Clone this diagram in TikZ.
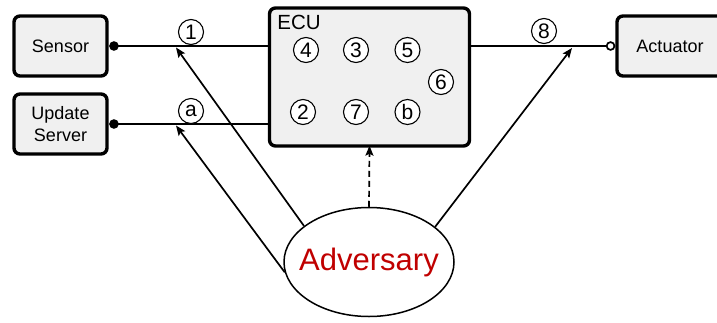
\documentclass[tikz,border=0pt]{standalone}
\usepackage{fontspec}
\setmainfont{Liberation Sans}
\usetikzlibrary{arrows.meta,shapes.geometric}
\definecolor{boxfill}{RGB}{240,240,240}
\definecolor{advred}{RGB}{192,0,0}
\begin{document}
\begin{tikzpicture}[x=1pt,y=-1pt,
  blockbox/.style={draw,line width=3.4pt,rounded corners=6pt,fill=boxfill,inner sep=0pt,
    font=\fontsize{18}{22}\selectfont,align=center},
  numcirc/.style={circle,draw,line width=1.1pt,fill=white,minimum size=25pt,inner sep=0pt,
    font=\fontsize{21}{21}\selectfont},
  conn/.style={line width=1.7pt},
  atk/.style={line width=1.7pt,-{Stealth[length=10pt,width=8pt,inset=2pt]}}]
\useasboundingbox (0,0) rectangle (717,322);
% boxes
\node[blockbox,minimum width=93pt,minimum height=60pt] (sensor) at (60.5,46) {Sensor};
\node[blockbox,minimum width=93pt,minimum height=60pt] (update) at (60.5,124) {Update\\Server};
\node[blockbox,minimum width=200pt,minimum height=138pt] (ecu) at (369.5,77) {};
\node[blockbox,minimum width=106pt,minimum height=60pt] (act) at (670,46) {Actuator};
\node[font=\fontsize{20.5}{20.5}\selectfont,inner sep=0pt] (eculabel) at (299,22) {ECU};
% ECU internals
\node[numcirc] (c4) at (306,50) {4};
\node[numcirc] (c3) at (356,50) {3};
\node[numcirc] (c5) at (407.5,50) {5};
\node[numcirc] (c6) at (441,82) {6};
\node[numcirc] (c2) at (303,112) {2};
\node[numcirc] (c7) at (356,112) {7};
\node[numcirc] (cb) at (407.5,112) {b};
% adversary
\node[ellipse,draw,line width=1.5pt,minimum width=170pt,minimum height=109pt,inner sep=0pt] (adv) at (369,262) {};
\node[text=advred,font=\fontsize{31}{31}\selectfont,inner sep=0pt] (advtext) at (369,262) {Adversary};
% connectors
\draw[conn,{Circle[length=9.5pt,width=9.5pt]}-] ([xshift=0.5pt]sensor.east) -- (ecu.west |- sensor.east);
\draw[conn,{Circle[length=9.5pt,width=9.5pt]}-] ([xshift=0.5pt]update.east) -- (ecu.west |- update.east);
\draw[conn,-{Circle[open,length=9.5pt,width=9.5pt,fill=white]}] (ecu.east |- act.west) -- (act.west);
% labels on lines
\node[numcirc] (l1) at (191,32) {1};
\node[numcirc] (la) at (191,111) {a};
\node[numcirc] (l8) at (544,31) {8};
% attack targets
\coordinate (t1) at (176,47.5);
\coordinate (ta) at (176,125.5);
\coordinate (t8) at (572,48);
\draw[atk] (adv.151) -- (t1);
\draw[atk] (adv.187) -- (ta);
\draw[atk] (adv.28) -- (t8);
\draw[atk,dash pattern=on 6pt off 4pt] (adv.north) -- ([yshift=2pt]ecu.south);
\end{tikzpicture}
\end{document}
